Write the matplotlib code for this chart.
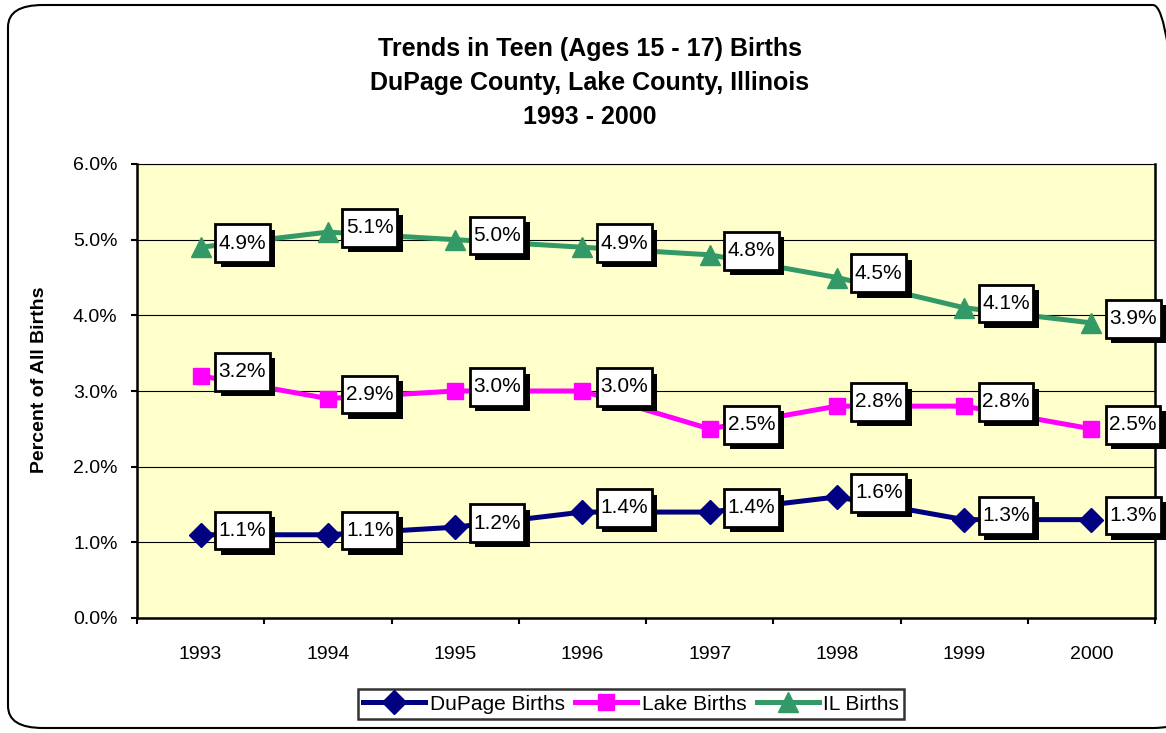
import numpy as np
import matplotlib.pyplot as plt
import matplotlib.patheffects as pe
from matplotlib.patches import FancyBboxPatch
from matplotlib.path import Path

plt.rcParams['font.family'] = ['Liberation Sans', 'DejaVu Sans']

# dados
anos = ['1993', '1994', '1995', '1996', '1997', '1998', '1999', '2000']
dupage = [1.1, 1.1, 1.2, 1.4, 1.4, 1.6, 1.3, 1.3]
lake = [3.2, 2.9, 3.0, 3.0, 2.5, 2.8, 2.8, 2.5]
il = [4.9, 5.1, 5.0, 4.9, 4.8, 4.5, 4.1, 3.9]


def caixa(x0, y0, width, height, mutation_size):
    # caixa com mais folga na vertical do que na horizontal
    px = 0.17 * mutation_size
    py = 0.45 * mutation_size
    x0, x1 = x0 - px, x0 + width + px
    y0, y1 = y0 - py, y0 + height + py
    return Path([(x0, y0), (x1, y0), (x1, y1), (x0, y1), (x0, y0)], closed=True)


W, H = 1166, 733
fig = plt.figure(figsize=(W/100, H/100), dpi=100)
ax = fig.add_axes([137/W, 1 - 618/H, (1155-137)/W, (618-164)/H])
ax.set_facecolor('#FFFFCC')

# moldura arredondada
borda = FancyBboxPatch((8/W, 5/H), 1180/W, 723/H, boxstyle='round,pad=0,rounding_size=0.03',
                       transform=fig.transFigure, fill=False, lw=1.5, ec='black', clip_on=False)
fig.patches.append(borda)

x = np.arange(len(anos))
ax.plot(x, dupage, color='#000080', lw=3.6, marker='D', ms=12, label='DuPage Births', zorder=3)
ax.plot(x, lake, color='#FF00FF', lw=3.6, marker='s', ms=11, mfc='#FF00FF', mec='#FF00FF',
        label='Lake Births', zorder=3)
ax.plot(x, il, color='#339966', lw=3.6, marker='^', ms=14, label='IL Births', zorder=3)

# rotulos com sombra
for serie in [dupage, lake, il]:
    for i, v in enumerate(serie):
        t = ax.annotate('%.1f%%' % v, (x[i], v), xytext=(13, 3), textcoords='offset points',
                        ha='left', va='center', fontsize=15, zorder=5, annotation_clip=False,
                        bbox=dict(boxstyle=caixa, fc='white', ec='black', lw=2))
        t.get_bbox_patch().set_path_effects([pe.SimplePatchShadow(offset=(4, -4), shadow_rgbFace='black', alpha=1),
                                             pe.Normal()])

ax.set_xlim(-0.5, 7.5)
ax.set_ylim(0, 6)
ax.set_yticks(np.arange(0, 7, 1))
ax.set_yticklabels(['%.1f%%' % v for v in np.arange(0, 7, 1)], fontsize=14)
ax.set_xticks(x)
ax.set_xticklabels(anos, fontsize=14)
ax.set_xticks(np.arange(-0.5, 8, 1), minor=True)
ax.tick_params(axis='x', which='major', length=0, pad=20)
ax.tick_params(axis='x', which='minor', length=4, width=1.5, direction='out')
ax.tick_params(axis='y', length=4, width=1.5, pad=10)
ax.grid(axis='y', color='black', lw=0.8)
ax.set_axisbelow(True)
for s in ax.spines.values():
    s.set_linewidth(1.8)
ax.spines['top'].set_linewidth(0.8)

ax.set_ylabel('Percent of All Births', fontsize=14, fontweight='bold')
ax.yaxis.set_label_coords(-89/1018, (618-380)/454)

fig.text(590/W, 1 - 83/H, 'Trends in Teen (Ages 15 - 17) Births\nDuPage County, Lake County, Illinois\n1993 - 2000',
         ha='center', va='center', fontsize=18, fontweight='bold', linespacing=1.55)

leg = fig.legend(loc='center', bbox_to_anchor=(631/W, 1 - 704/H), ncol=3, fontsize=15,
                 frameon=True, fancybox=False, edgecolor='black', handlelength=3,
                 handletextpad=0.2, columnspacing=0.5, borderpad=0.25)
leg.get_frame().set_linewidth(1.8)

fig.savefig('out.png', dpi=100)
